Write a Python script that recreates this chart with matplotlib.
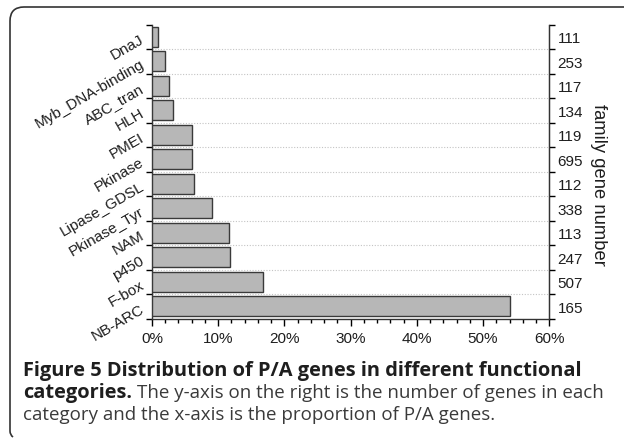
import matplotlib
matplotlib.use("Agg")
import matplotlib.pyplot as plt
import numpy as np
from matplotlib.ticker import MultipleLocator, FixedLocator, FuncFormatter
from matplotlib.patches import PathPatch
from matplotlib.path import Path
from matplotlib.font_manager import FontProperties

categories = ["NB-ARC", "F-box", "p450", "NAM", "Pkinase_Tyr", "Lipase_GDSL",
              "Pkinase", "PMEI", "HLH", "ABC_tran", "Myb_DNA-binding", "DnaJ"]
proportions = [54.0, 16.8, 11.8, 11.65, 9.0, 6.4, 6.1, 6.0, 3.1, 2.6, 2.0, 0.9]
gene_numbers = [165, 507, 247, 113, 338, 112, 695, 119, 134, 117, 253, 111]
x_ticks = [0, 10, 20, 30, 40, 50, 60]

W, H = 624, 439
fig = plt.figure(figsize=(W / 100, H / 100), dpi=100)
ax = fig.add_axes([152 / W, 1 - 319.5 / H, (549.3 - 152) / W, (319.5 - 25.5) / H])

n = len(categories)
y = np.arange(n)
ax.barh(y, proportions, height=0.8, color="#b7b7b7", edgecolor="#3a3a3a", linewidth=1.0, zorder=3)

ax.set_xlim(0, 60)
ax.set_ylim(-0.5, n - 0.5)

TF = "Liberation Sans"
TS = 11
TC = "#1e1e1e"

ax.xaxis.set_major_locator(FixedLocator(x_ticks))
ax.xaxis.set_minor_locator(MultipleLocator(2))
ax.xaxis.set_major_formatter(FuncFormatter(lambda v, p: f"{int(v)}%"))
ax.tick_params(axis="x", which="major", length=5, width=1, direction="out", pad=4, labelsize=TS)
ax.tick_params(axis="x", which="minor", length=3, width=1, direction="out")
for lab in ax.get_xticklabels():
    lab.set_fontfamily(TF)
    lab.set_color(TC)

bounds = np.arange(-0.5, n, 1.0)
ax.yaxis.set_major_locator(FixedLocator(bounds))
ax.yaxis.set_major_formatter(FuncFormatter(lambda v, p: ""))
ax.set_yticks(y, minor=True)
ax.set_yticklabels(categories, minor=True, rotation=30, ha="right", va="center_baseline",
                   rotation_mode="anchor", fontfamily=TF, fontsize=TS, color=TC)
ax.tick_params(axis="y", which="major", length=4, width=1, direction="out")
ax.tick_params(axis="y", which="minor", length=0, pad=7)

for b in bounds[1:-1]:
    ax.axhline(b, color="#c4c4c4", linestyle=(0, (1, 1.5)), linewidth=0.8, zorder=1)

ax.spines["top"].set_visible(False)
for s in ["left", "bottom", "right"]:
    ax.spines[s].set_color("#333333")
    ax.spines[s].set_linewidth(1.0)

ax2 = ax.twinx()
ax2.set_ylim(-0.5, n - 0.5)
ax2.yaxis.set_major_locator(FixedLocator(bounds))
ax2.yaxis.set_major_formatter(FuncFormatter(lambda v, p: ""))
ax2.set_yticks(y, minor=True)
ax2.set_yticklabels([str(g) for g in gene_numbers], minor=True,
                    fontfamily=TF, fontsize=TS, color=TC)
ax2.tick_params(axis="y", which="major", length=4, width=1, direction="out")
ax2.tick_params(axis="y", which="minor", length=0, pad=6)
for s in ["top", "left", "bottom"]:
    ax2.spines[s].set_visible(False)
ax2.spines["right"].set_color("#333333")
ax2.set_ylabel("family gene number", rotation=-90,
               fontfamily=TF, fontsize=13.2, color=TC)
ax2.yaxis.set_label_coords((599 - 152) / 397.3, 1 - (185 - 25.5) / 294)
ax2.yaxis.label.set_ha("center")
ax2.yaxis.label.set_va("center")

# frame
def fx(px):
    return px / W
def fy(py):
    return 1 - py / H
r = 14
verts = [(fx(W + 2), fy(8)), (fx(10 + r), fy(8)), (fx(10), fy(8)), (fx(10), fy(8 + r)),
         (fx(10), fy(432)), (fx(10), fy(436)), (fx(13), fy(438))]
codes = [Path.MOVETO, Path.LINETO, Path.CURVE3, Path.CURVE3, Path.LINETO, Path.CURVE3, Path.CURVE3]
fig.patches.append(PathPatch(Path(verts, codes), transform=fig.transFigure,
                             fill=False, edgecolor="#333333", linewidth=1.2))

# caption
bold_fp = FontProperties(family=["Open Sans"], weight=700, size=14)
reg_fp = FontProperties(family=["Open Sans"], weight=400, size=14)

renderer = fig.canvas.get_renderer()

def fit(t, target_px):
    w = t.get_window_extent(renderer).width
    t.set_fontsize(t.get_fontsize() * target_px / w)

t1 = fig.text(fx(23), fy(376.5), "Figure 5 Distribution of P/A genes in different functional",
              fontproperties=bold_fp, color="#1e1e1e", va="baseline")
fit(t1, 561)
t2 = fig.text(fx(23), fy(398.5), "categories.", fontproperties=bold_fp.copy(), color="#1e1e1e", va="baseline")
t2.set_fontsize(t1.get_fontsize())
t4 = fig.text(fx(23), fy(420.5), "category and the x-axis is the proportion of P/A genes.",
              fontproperties=reg_fp, color="#3a3a3a", va="baseline")
fit(t4, 474)
x2 = t2.get_window_extent(renderer).x1 + 5
t3 = fig.text(x2 / W, fy(398.5), "The y-axis on the right is the number of genes in each",
              fontproperties=reg_fp.copy(), color="#3a3a3a", va="baseline")
t3.set_fontsize(t4.get_fontsize())

fig.savefig("out.png", dpi=100)
